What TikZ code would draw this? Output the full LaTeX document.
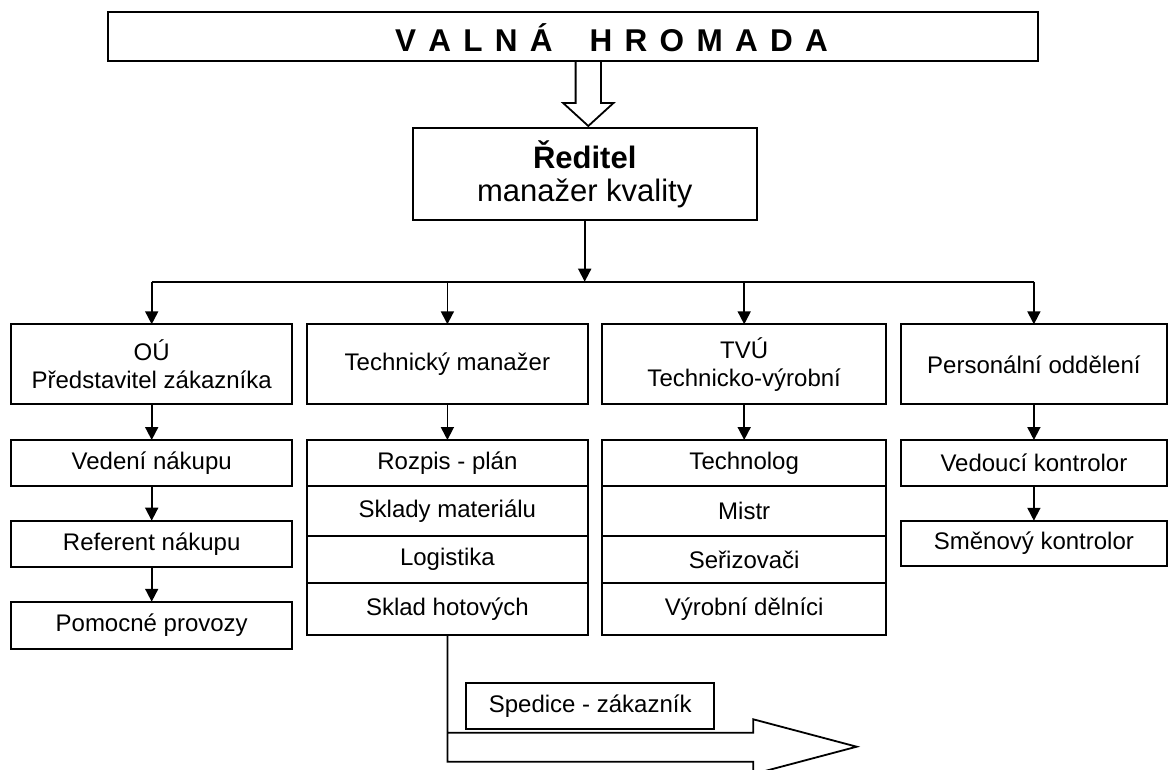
\documentclass[tikz,border=0pt]{standalone}
\usepackage{fontspec}
\setmainfont{Liberation Sans}
\usepackage{tikz}
\usetikzlibrary{arrows.meta,positioning}

\begin{document}
\begin{tikzpicture}[x=1pt,y=-1pt,
  box/.style={draw,line width=1.8pt,inner sep=0pt,outer sep=0pt,align=center,font=\fontsize{24}{28}\selectfont},
  col/.style={box,minimum width=281.3pt},
  link/.style={line width=1.8pt,-{Triangle[length=13pt,width=13pt]}},
  block/.style={line width=1.8pt,line join=miter}]
  \useasboundingbox (0,0) rectangle (1173,770);

  \node[box,minimum width=930pt,minimum height=49.3pt] (gm) at (573.3,36.4) {};
  \node[anchor=base,font=\fontsize{31.5}{36}\selectfont\bfseries] (gmtext) at (611.5,51.7)
    {{\spaceskip=12.3pt\relax V A L N Á~~~H R O M A D A}};

  \node[box,minimum width=344pt,minimum height=92.3pt,font=\fontsize{31}{33}\selectfont] (dir) at (584.7,173.9)
    {\textbf{Ředitel}\\manažer kvality};

  \coordinate (gmout) at (588.3,61);
  \draw[block] (gmout) ++(-12.7,0) -- ++(0,42) -- ++(-12.5,0) -- ++(25.2,23) -- ++(25.2,-23) -- ++(-12.5,0) -- ++(0,-42);

  \node[col,minimum height=80pt] (ou) at (151.7,364.3) {OÚ\\Představitel zákazníka};
  \node[col,minimum height=80pt] (tm) at (447.4,364.3) {Technický manažer};
  \node[col,minimum width=284.3pt,minimum height=80pt] (tvu) at (744.2,364.3) {TVÚ\\Technicko-výrobní};
  \node[col,minimum width=266.3pt,minimum height=80pt] (po) at (1033.9,364.3) {Personální oddělení};

  \node[col,minimum height=46pt] (vn) at (151.7,463) {Vedení nákupu};
  \node[col,minimum height=46pt] (rn) at (151.7,543.7) {Referent nákupu};
  \node[col,minimum height=47.3pt] (pp) at (151.7,625.4) {Pomocné provozy};

  \node[col,minimum height=46pt] (rp) at (447.4,463) {Rozpis - plán};
  \node[col,minimum height=50pt,below=0pt of rp] (sm) {Sklady materiálu};
  \node[col,minimum height=47.3pt,below=0pt of sm] (lg) {Logistika};
  \node[col,minimum height=51.7pt,below=0pt of lg] (sh) {Sklad hotových};

  \node[col,minimum width=284.3pt,minimum height=46pt] (te) at (744.2,463) {Technolog};
  \node[col,minimum width=284.3pt,minimum height=50pt,below=0pt of te] (mi) {Mistr};
  \node[col,minimum width=284.3pt,minimum height=47.3pt,below=0pt of mi] (se) {Seřizovači};
  \node[col,minimum width=284.3pt,minimum height=51.7pt,below=0pt of se] (vd) {Výrobní dělníci};

  \node[col,minimum width=266.3pt,minimum height=46pt] (vk) at (1033.9,463) {Vedoucí kontrolor};
  \node[col,minimum width=266.3pt,minimum height=45.3pt] (sk) at (1033.9,543.4) {Směnový kontrolor};

  \node[box,minimum width=248.3pt,minimum height=46.6pt] (sz) at (590.2,706) {Spedice - zákazník};

  \coordinate (bus) at (0,281.7);
  \draw[link] (dir.south) -- (dir.south |- bus);
  \draw[line width=1.8pt] (ou.north |- bus) -- (po.north |- bus);
  \foreach \n in {ou,tm,tvu,po}
    \draw[link] (\n.north |- bus) -- (\n.north);

  \draw[link] (ou) -- (vn);
  \draw[link] (vn) -- (rn);
  \draw[link] (rn) -- (pp);
  \draw[link] (tm) -- (rp);
  \draw[link] (tvu) -- (te);
  \draw[link] (po) -- (vk);
  \draw[link] (vk) -- (sk);

  \coordinate (cust) at (856.7,746.7);
  \draw[block] (sh.south) -- (sh.south |- 0,761.7) -- (753.3,761.7) -- (753.3,774.1) -- (cust)
    -- (753.3,719.3) -- (753.3,732.7) -- (sh.south |- 0,732.7);
\end{tikzpicture}
\end{document}
